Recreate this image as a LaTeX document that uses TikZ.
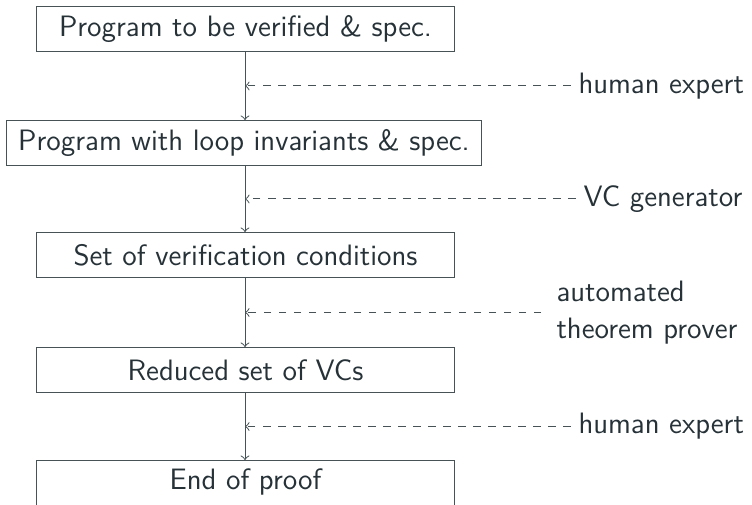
\documentclass[tikz,border=0pt]{standalone}
\usetikzlibrary{calc}
\definecolor{txt}{RGB}{38,50,56}
\definecolor{ln}{RGB}{70,82,86}
\begin{document}
\begin{tikzpicture}[x=0.4pt,y=-0.4pt,
  font=\sffamily\fontsize{11.8}{15}\selectfont,
  box/.style={draw=ln,text=txt,inner sep=0pt,minimum height=18pt},
  lbl/.style={text=txt,inner sep=0pt,anchor=west,align=left},
  flow/.style={draw=ln,->},
  hint/.style={draw=ln,dashed,->}]
\useasboundingbox (0,0) rectangle (752,505);
\clip (0,0) rectangle (752,505);
\node[box,minimum width=166.8pt] (b1) at (245.5,29) {Program to be verified \& spec.};
\node[box,minimum width=189.6pt] (b2) at (244,143) {Program with loop invariants \& spec.};
\node[box,minimum width=166.8pt] (b3) at (245.5,255) {Set of verification conditions};
\node[box,minimum width=166.8pt] (b4) at (245.5,370) {Reduced set of VCs};
\node[box,minimum width=166.8pt,anchor=north,minimum height=26pt,text depth=11pt] (b5) at (245.5,460) {End of proof};
\draw[flow] (b1.south -| 245,0) -- (b2.north -| 245,0);
\draw[flow] (b2.south -| 245,0) -- (b3.north -| 245,0);
\draw[flow] (b3.south -| 245,0) -- (b4.north -| 245,0);
\draw[flow] (b4.south -| 245,0) -- (b5.north -| 245,0);
\coordinate (m1) at ($(b1.south -| 245,0)!0.5!(b2.north -| 245,0)$);
\coordinate (m2) at ($(b2.south -| 245,0)!0.5!(b3.north -| 245,0)$);
\coordinate (m3) at ($(b3.south -| 245,0)!0.5!(b4.north -| 245,0)$);
\coordinate (m4) at ($(b4.south -| 245,0)!0.5!(b5.north -| 245,0)$);
\node[lbl] (l1) at (578,0 |- m1) {human expert};
\node[lbl] (l2) at (583,0 |- m2) {VC generator};
\node[lbl] (l3) at (556,0 |- m3) {automated\\theorem prover};
\node[lbl] (l4) at (578,0 |- m4) {human expert};
\draw[hint] ([xshift=-3pt]l1.west) -- (m1);
\draw[hint] ([xshift=-3pt]l2.west) -- (m2);
\draw[hint] ([xshift=-6pt]l3.west) -- (m3);
\draw[hint] ([xshift=-3pt]l4.west) -- (m4);
\end{tikzpicture}
\end{document}
